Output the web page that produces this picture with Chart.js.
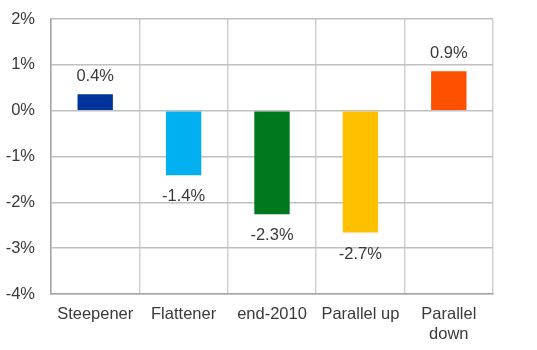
<!DOCTYPE html>
<html>
<head>
<meta charset="utf-8">
<script src="https://cdn.jsdelivr.net/npm/chart.js@4.4.1/dist/chart.umd.min.js"></script>
<style>
  html, body { margin: 0; padding: 0; background: #fff; }
  #wrap { width: 537px; height: 350px; }
</style>
</head>
<body>
<div id="wrap"><canvas id="chart"></canvas></div>
<script>
// scenarios and their impact, in percent
var scenarios = ['Steepener', 'Flattener', 'end-2010', 'Parallel up', ['Parallel', 'down']];
var impact = [0.36, -1.41, -2.26, -2.66, 0.86];
var barColors = ['#003399', '#00b0f0', '#00781e', '#ffc000', '#ff5000'];
var yTicks = [2, 1, 0, -1, -2, -3, -4];

var textColor = '#3a3a3a';
var fontFam = '"Liberation Sans", Arial, sans-serif';

// value labels: above positive bars, below negative ones
var valueLabels = {
  id: 'valueLabels',
  afterDatasetsDraw: function(chart) {
    var ctx = chart.ctx;
    var meta = chart.getDatasetMeta(0);
    ctx.save();
    ctx.font = '16.5px ' + fontFam;
    ctx.fillStyle = textColor;
    ctx.textAlign = 'center';
    ctx.textBaseline = 'alphabetic';
    meta.data.forEach(function(bar, i) {
      var v = impact[i];
      var txt = v.toFixed(1) + '%';
      if (v >= 0) {
        ctx.fillText(txt, bar.x, bar.y - 13);
      } else {
        ctx.fillText(txt, bar.x, bar.y + 26);
      }
    });
    ctx.restore();
  }
};

var ctx = document.getElementById('chart').getContext('2d');
window.bar = new Chart(ctx, {
  type: 'bar',
  data: {
    labels: scenarios,
    datasets: [{
      data: impact,
      backgroundColor: barColors,
      borderWidth: 0,
      barPercentage: 0.4,
      categoryPercentage: 1
    }]
  },
  options: {
    responsive: true,
    maintainAspectRatio: false,
    animation: false,
    layout: { padding: { left: 4, right: 44, top: 19, bottom: 0 } },
    plugins: {
      legend: { display: false },
      tooltip: { enabled: false }
    },
    scales: {
      x: {
        offset: true,
        afterFit: function(axis) { axis.height = 56; },
        grid: { offset: true, color: '#d0d0d0', lineWidth: 1.5, drawTicks: false },
        border: { color: '#a6a6a6', width: 1.5 },
        ticks: {
          color: textColor,
          font: { family: fontFam, size: 16.5, lineHeight: 1.2 },
          padding: 11,
          maxRotation: 0,
          autoSkip: false
        }
      },
      y: {
        min: -4,
        max: 2,
        afterBuildTicks: function(axis) {
          axis.ticks = yTicks.map(function(v) { return { value: v }; });
        },
        afterFit: function(axis) {
          axis.width = 47;
          axis.paddingTop = 0;
          axis.paddingBottom = 0;
        },
        grid: { color: '#c0c0c0', lineWidth: 1.5, drawTicks: false },
        border: { color: '#a6a6a6', width: 1.5 },
        ticks: {
          color: textColor,
          font: { family: fontFam, size: 16.5 },
          padding: 16,
          callback: function(v) { return v + '%'; }
        }
      }
    }
  },
  plugins: [valueLabels]
});
</script>
</body>
</html>
